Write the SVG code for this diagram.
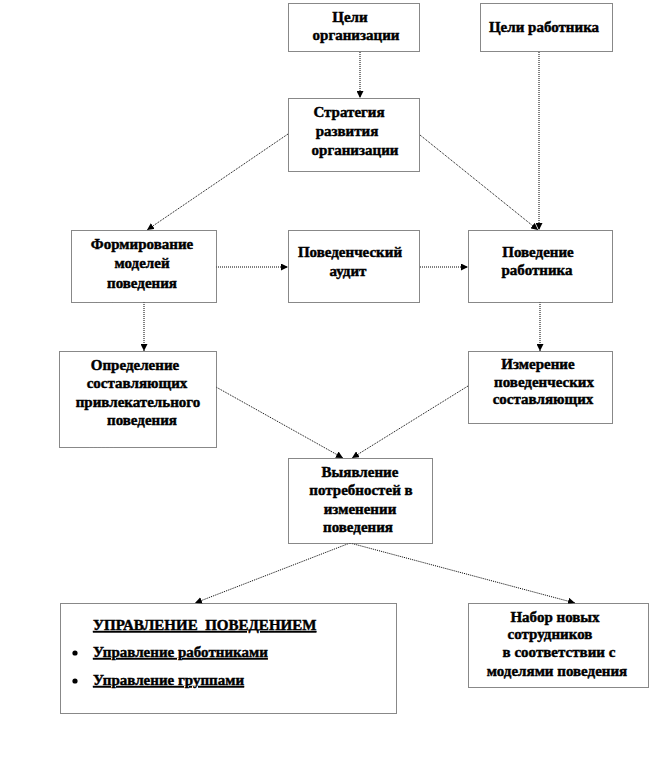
<svg xmlns="http://www.w3.org/2000/svg" width="672" height="771" viewBox="0 0 672 771">
<defs>
<marker id="ah" viewBox="0 0 10 10" refX="10" refY="5" markerWidth="7" markerHeight="7" markerUnits="userSpaceOnUse" orient="auto">
<path d="M0,0 L10,5 L0,10 z" fill="#000"/>
</marker>
<style>
.box{fill:#fff;stroke:#111;stroke-width:1;stroke-dasharray:1 1}
.t{font-family:'Liberation Serif','Times New Roman','DejaVu Serif',serif;font-weight:700;font-size:15px;fill:#000;stroke:#000;stroke-width:0.45;text-anchor:middle}
.l{text-anchor:start}
.u{text-decoration:underline}
.c{fill:none;stroke:#000;stroke-width:1;stroke-dasharray:1 1;marker-end:url(#ah)}
</style>
</defs>
<rect width="672" height="771" fill="#fff"/>
<g id="connectors">
<line class="c" x1="360" y1="52" x2="360" y2="98"/>
<line class="c" x1="539" y1="52" x2="539" y2="230"/>
<line class="c" x1="288" y1="134" x2="147" y2="230"/>
<line class="c" x1="420" y1="135" x2="538" y2="230"/>
<line class="c" x1="216" y1="267" x2="288" y2="267"/>
<line class="c" x1="420" y1="267" x2="468" y2="267"/>
<line class="c" x1="144" y1="302" x2="144" y2="351"/>
<line class="c" x1="540" y1="302" x2="540" y2="351"/>
<line class="c" x1="216" y1="387" x2="343" y2="458"/>
<line class="c" x1="468" y1="386" x2="352" y2="458"/>
<line class="c" x1="350" y1="543" x2="195" y2="603"/>
<line class="c" x1="350" y1="543" x2="575" y2="603"/>
</g>
<g id="n1">
<rect class="box" x="288.5" y="3.5" width="131" height="48"/>
<text class="t" font-family="Liberation Serif, serif" x="350" y="22">Цели</text>
<text class="t" font-family="Liberation Serif, serif" x="356" y="40">организации</text>
</g>
<g id="n2">
<rect class="box" x="480.5" y="3.5" width="132" height="48"/>
<text class="t" x="544" y="32">Цели работника</text>
</g>
<g id="n3">
<rect class="box" x="288.5" y="98.5" width="131" height="73"/>
<text class="t" x="349" y="117">Стратегия</text>
<text class="t" x="347" y="136">развития</text>
<text class="t" x="355" y="155">организации</text>
</g>
<g id="n4">
<rect class="box" x="71.5" y="230.5" width="145" height="72"/>
<text class="t" x="142" y="249">Формирование</text>
<text class="t" x="142" y="268">моделей</text>
<text class="t" x="142" y="288">поведения</text>
</g>
<g id="n5">
<rect class="box" x="288.5" y="230.5" width="131" height="72"/>
<text class="t" x="350" y="257">Поведенческий</text>
<text class="t" x="348" y="276">аудит</text>
</g>
<g id="n6">
<rect class="box" x="468.5" y="230.5" width="144" height="72"/>
<text class="t" x="538" y="257">Поведение</text>
<text class="t" x="537" y="275">работника</text>
</g>
<g id="n7">
<rect class="box" x="59.5" y="351.5" width="157" height="96"/>
<text class="t" x="135" y="370">Определение</text>
<text class="t" x="137" y="388">составляющих</text>
<text class="t" x="138" y="407">привлекательного</text>
<text class="t" x="142" y="425">поведения</text>
</g>
<g id="n8">
<rect class="box" x="468.5" y="351.5" width="144" height="72"/>
<text class="t" x="538" y="369">Измерение</text>
<text class="t" x="544" y="387">поведенческих</text>
<text class="t" x="543" y="404">составляющих</text>
</g>
<g id="n9">
<rect class="box" x="288.5" y="458.5" width="144" height="85"/>
<text class="t" x="360" y="477">Выявление</text>
<text class="t" x="361" y="495">потребностей в</text>
<text class="t" x="360" y="514">изменении</text>
<text class="t" x="358" y="532">поведения</text>
</g>
<g id="n10">
<rect class="box" x="60.5" y="603.5" width="336" height="110"/>
<text class="t l u" x="93" y="630" xml:space="preserve">УПРАВЛЕНИЕ  ПОВЕДЕНИЕМ</text>
<circle cx="75" cy="653" r="2.6" fill="#000"/>
<text class="t l u" x="93" y="657">Управление работниками</text>
<circle cx="75" cy="681" r="2.6" fill="#000"/>
<text class="t l u" x="93" y="685">Управление группами</text>
</g>
<g id="n11">
<rect class="box" x="468.5" y="603.5" width="180" height="84"/>
<text class="t" x="555" y="622">Набор новых</text>
<text class="t" x="550" y="639">сотрудников</text>
<text class="t" x="559" y="657">в соответствии с</text>
<text class="t" x="557" y="676">моделями поведения</text>
</g>
</svg>
